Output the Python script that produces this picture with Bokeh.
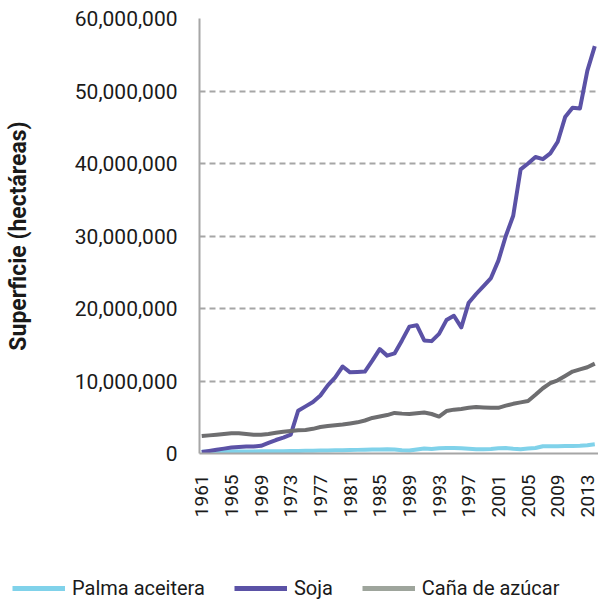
import math
from bokeh.plotting import figure
from bokeh.layouts import column, row
from bokeh.models import Range1d, FixedTicker, NumeralTickFormatter, Legend, LegendItem
from bokeh.embed import file_html
from bokeh.resources import INLINE

years = list(range(1961, 2015))

# millions of hectares
palma = [0.25, 0.25, 0.26, 0.27, 0.27, 0.28, 0.28, 0.29, 0.30, 0.30,
         0.31, 0.32, 0.33, 0.35, 0.37, 0.38, 0.40, 0.42, 0.44, 0.46,
         0.48, 0.50, 0.52, 0.54, 0.55, 0.57, 0.55, 0.45, 0.40, 0.55,
         0.70, 0.62, 0.72, 0.75, 0.77, 0.72, 0.65, 0.60, 0.60, 0.62,
         0.72, 0.75, 0.65, 0.60, 0.68, 0.75, 1.00, 1.00, 1.00, 1.02,
         1.05, 1.08, 1.15, 1.28]
soja = [0.20, 0.35, 0.51, 0.67, 0.82, 0.91, 0.95, 0.97, 1.06, 1.46,
        1.86, 2.20, 2.60, 5.90, 6.50, 7.10, 8.00, 9.40, 10.5, 12.0,
        11.2, 11.25, 11.3, 12.8, 14.4, 13.5, 13.8, 15.6, 17.5, 17.7,
        15.6, 15.5, 16.5, 18.4, 19.0, 17.4, 20.8, 22.0, 23.1, 24.2,
        26.6, 30.0, 32.8, 39.2, 40.0, 40.9, 40.6, 41.4, 43.0, 46.4,
        47.7, 47.6, 52.8, 56.2]
cana = [2.40, 2.50, 2.60, 2.70, 2.80, 2.80, 2.70, 2.60, 2.60, 2.70,
        2.85, 3.00, 3.10, 3.20, 3.25, 3.40, 3.65, 3.80, 3.90, 4.00,
        4.15, 4.30, 4.55, 4.90, 5.10, 5.30, 5.60, 5.50, 5.45, 5.55,
        5.65, 5.45, 5.10, 5.85, 6.05, 6.15, 6.30, 6.40, 6.35, 6.30,
        6.30, 6.60, 6.85, 7.05, 7.25, 8.10, 9.00, 9.70, 10.1, 10.7,
        11.3, 11.6, 11.9, 12.4]

series_names = ["Palma aceitera", "Soja", "Caña de azúcar"]
line_colors = ["#80d2ea", "#5b52a6", "#6e6e70"]
legend_colors = ["#80d2ea", "#5b52a6", "#9ea59c"]
x_ticks = list(range(1961, 2014, 4))
y_ticks = [0, 10e6, 20e6, 30e6, 40e6, 50e6, 60e6]

FONT = "Roboto"
series = [palma, soja, cana]

p = figure(width=598, height=560, output_backend="svg", toolbar_location=None,
           x_range=Range1d(1960.7, 2014.5), y_range=Range1d(0, 60e6),
           min_border_left=199, min_border_right=0, min_border_top=18,
           min_border_bottom=107)
p.outline_line_color = None
p.background_fill_color = "white"
p.border_fill_color = "white"

p.xgrid.visible = False
p.ygrid.grid_line_color = "#a6a6a6"
p.ygrid.grid_line_dash = "6 4"
p.ygrid.grid_line_width = 2

for vals, col in zip(series, line_colors):
    p.line(years, [v * 1e6 for v in vals], line_color=col, line_width=4,
           line_join="round")

p.yaxis.ticker = FixedTicker(ticks=y_ticks)
p.yaxis.formatter = NumeralTickFormatter(format="0,0")
p.yaxis.axis_line_color = "#a6a6a6"
p.yaxis.axis_line_width = 2
p.yaxis.major_tick_line_color = None
p.yaxis.minor_tick_line_color = None
p.yaxis.major_label_standoff = 16
p.yaxis.major_label_text_font = FONT
p.yaxis.major_label_text_font_size = "21px"
p.yaxis.major_label_text_color = "#1a1a1a"
p.yaxis.axis_label = "Superficie (hectáreas)"
p.yaxis.axis_label_text_font = FONT
p.yaxis.axis_label_text_font_style = "bold"
p.yaxis.axis_label_text_font_size = "23px"
p.yaxis.axis_label_text_color = "#1a1a1a"
p.yaxis.axis_label_standoff = 40

p.xaxis.ticker = FixedTicker(ticks=x_ticks)
p.xaxis.formatter = NumeralTickFormatter(format="0")
p.xaxis.axis_line_color = "#a6a6a6"
p.xaxis.axis_line_width = 2
p.xaxis.major_tick_line_color = None
p.xaxis.minor_tick_line_color = None
p.xaxis.major_label_orientation = math.pi / 2
p.xaxis.major_label_standoff = 15
p.xaxis.major_label_text_font = FONT
p.xaxis.major_label_text_font_size = "19px"
p.xaxis.major_label_text_color = "#1a1a1a"

# legend strip below the chart (series drawn off-view, only their legend shows)
lf = figure(width=598, height=40, output_backend="svg", toolbar_location=None,
            x_range=Range1d(0, 1), y_range=Range1d(0, 1),
            x_axis_location=None, y_axis_location=None,
            min_border=0, min_border_left=0, min_border_right=0,
            min_border_top=0, min_border_bottom=0)
lf.outline_line_color = None
lf.xgrid.visible = False
lf.ygrid.visible = False
leg_rs = [lf.line(years, vals, line_color=c, line_width=5)
          for vals, c in zip(series, legend_colors)]

legend = Legend(items=[LegendItem(label=n, renderers=[r]) for n, r in zip(series_names, leg_rs)],
                location=(12, 0), orientation="horizontal",
                glyph_width=53, glyph_height=20, label_height=20, label_standoff=7,
                spacing=29, padding=0, margin=0, border_line_color=None,
                background_fill_alpha=0,
                label_text_font=FONT, label_text_font_size="20px",
                label_text_color="#1a1a1a")
lf.add_layout(legend)

open("out.html", "w").write(file_html(column(p, row(lf, spacing=0), spacing=0), INLINE))
